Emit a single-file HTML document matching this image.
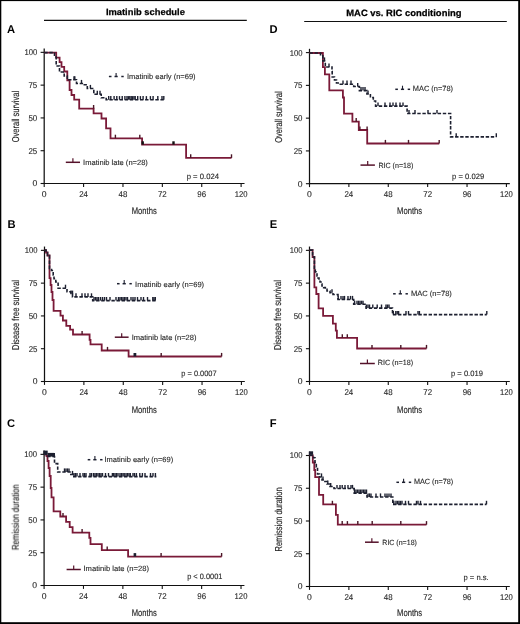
<!DOCTYPE html>
<html><head><meta charset="utf-8"><style>
html,body{margin:0;padding:0;background:#fff;}
svg{display:block;font-family:"Liberation Sans",sans-serif;}
text{text-rendering:geometricPrecision;}
</style></head><body>
<svg width="520" height="624" viewBox="0 0 520 624">
<rect x="0" y="0" width="520" height="624" fill="#fff"/>
<rect x="0" y="0" width="1.3" height="624" fill="#000"/>
<rect x="0" y="0" width="520" height="1.1" fill="#000"/>
<rect x="518.2" y="0" width="1.8" height="624" fill="#000"/>
<rect x="0" y="622.2" width="520" height="1.8" fill="#000"/>
<line x1="44" y1="20.4" x2="246.8" y2="20.4" stroke="#111" stroke-width="1.15"/>
<line x1="304.2" y1="21.45" x2="506.8" y2="21.45" stroke="#111" stroke-width="1.1"/>
<line x1="44.2" y1="48.55" x2="44.2" y2="184.1" stroke="#111" stroke-width="1.25"/>
<line x1="43.6" y1="183.5" x2="244.52" y2="183.5" stroke="#111" stroke-width="1.2"/>
<line x1="40.6" y1="52.35" x2="44.2" y2="52.35" stroke="#111" stroke-width="1.1"/>
<line x1="40.6" y1="85.14" x2="44.2" y2="85.14" stroke="#111" stroke-width="1.1"/>
<line x1="40.6" y1="117.93" x2="44.2" y2="117.93" stroke="#111" stroke-width="1.1"/>
<line x1="40.6" y1="150.71" x2="44.2" y2="150.71" stroke="#111" stroke-width="1.1"/>
<line x1="40.6" y1="183.5" x2="44.2" y2="183.5" stroke="#111" stroke-width="1.1"/>
<line x1="44.2" y1="183.5" x2="44.2" y2="186.9" stroke="#111" stroke-width="1.1"/>
<line x1="83.58" y1="183.5" x2="83.58" y2="186.9" stroke="#111" stroke-width="1.1"/>
<line x1="122.97" y1="183.5" x2="122.97" y2="186.9" stroke="#111" stroke-width="1.1"/>
<line x1="162.35" y1="183.5" x2="162.35" y2="186.9" stroke="#111" stroke-width="1.1"/>
<line x1="201.74" y1="183.5" x2="201.74" y2="186.9" stroke="#111" stroke-width="1.1"/>
<line x1="241.12" y1="183.5" x2="241.12" y2="186.9" stroke="#111" stroke-width="1.1"/>
<line x1="44.5" y1="246.55" x2="44.5" y2="382.1" stroke="#111" stroke-width="1.25"/>
<line x1="43.9" y1="381.5" x2="244.82" y2="381.5" stroke="#111" stroke-width="1.2"/>
<line x1="40.9" y1="250.35" x2="44.5" y2="250.35" stroke="#111" stroke-width="1.1"/>
<line x1="40.9" y1="283.14" x2="44.5" y2="283.14" stroke="#111" stroke-width="1.1"/>
<line x1="40.9" y1="315.93" x2="44.5" y2="315.93" stroke="#111" stroke-width="1.1"/>
<line x1="40.9" y1="348.71" x2="44.5" y2="348.71" stroke="#111" stroke-width="1.1"/>
<line x1="40.9" y1="381.5" x2="44.5" y2="381.5" stroke="#111" stroke-width="1.1"/>
<line x1="44.5" y1="381.5" x2="44.5" y2="384.9" stroke="#111" stroke-width="1.1"/>
<line x1="83.88" y1="381.5" x2="83.88" y2="384.9" stroke="#111" stroke-width="1.1"/>
<line x1="123.27" y1="381.5" x2="123.27" y2="384.9" stroke="#111" stroke-width="1.1"/>
<line x1="162.65" y1="381.5" x2="162.65" y2="384.9" stroke="#111" stroke-width="1.1"/>
<line x1="202.04" y1="381.5" x2="202.04" y2="384.9" stroke="#111" stroke-width="1.1"/>
<line x1="241.42" y1="381.5" x2="241.42" y2="384.9" stroke="#111" stroke-width="1.1"/>
<line x1="44.1" y1="450.55" x2="44.1" y2="586.1" stroke="#111" stroke-width="1.25"/>
<line x1="43.5" y1="585.5" x2="244.42" y2="585.5" stroke="#111" stroke-width="1.2"/>
<line x1="40.5" y1="454.35" x2="44.1" y2="454.35" stroke="#111" stroke-width="1.1"/>
<line x1="40.5" y1="487.14" x2="44.1" y2="487.14" stroke="#111" stroke-width="1.1"/>
<line x1="40.5" y1="519.92" x2="44.1" y2="519.92" stroke="#111" stroke-width="1.1"/>
<line x1="40.5" y1="552.71" x2="44.1" y2="552.71" stroke="#111" stroke-width="1.1"/>
<line x1="40.5" y1="585.5" x2="44.1" y2="585.5" stroke="#111" stroke-width="1.1"/>
<line x1="44.1" y1="585.5" x2="44.1" y2="588.9" stroke="#111" stroke-width="1.1"/>
<line x1="83.48" y1="585.5" x2="83.48" y2="588.9" stroke="#111" stroke-width="1.1"/>
<line x1="122.87" y1="585.5" x2="122.87" y2="588.9" stroke="#111" stroke-width="1.1"/>
<line x1="162.25" y1="585.5" x2="162.25" y2="588.9" stroke="#111" stroke-width="1.1"/>
<line x1="201.64" y1="585.5" x2="201.64" y2="588.9" stroke="#111" stroke-width="1.1"/>
<line x1="241.02" y1="585.5" x2="241.02" y2="588.9" stroke="#111" stroke-width="1.1"/>
<line x1="309.5" y1="48.8" x2="309.5" y2="184.3" stroke="#111" stroke-width="1.25"/>
<line x1="308.9" y1="183.7" x2="509.82" y2="183.7" stroke="#111" stroke-width="1.2"/>
<line x1="305.9" y1="52.6" x2="309.5" y2="52.6" stroke="#111" stroke-width="1.1"/>
<line x1="305.9" y1="85.38" x2="309.5" y2="85.38" stroke="#111" stroke-width="1.1"/>
<line x1="305.9" y1="118.15" x2="309.5" y2="118.15" stroke="#111" stroke-width="1.1"/>
<line x1="305.9" y1="150.92" x2="309.5" y2="150.92" stroke="#111" stroke-width="1.1"/>
<line x1="305.9" y1="183.7" x2="309.5" y2="183.7" stroke="#111" stroke-width="1.1"/>
<line x1="309.5" y1="183.7" x2="309.5" y2="187.1" stroke="#111" stroke-width="1.1"/>
<line x1="348.88" y1="183.7" x2="348.88" y2="187.1" stroke="#111" stroke-width="1.1"/>
<line x1="388.27" y1="183.7" x2="388.27" y2="187.1" stroke="#111" stroke-width="1.1"/>
<line x1="427.65" y1="183.7" x2="427.65" y2="187.1" stroke="#111" stroke-width="1.1"/>
<line x1="467.04" y1="183.7" x2="467.04" y2="187.1" stroke="#111" stroke-width="1.1"/>
<line x1="506.42" y1="183.7" x2="506.42" y2="187.1" stroke="#111" stroke-width="1.1"/>
<line x1="309.5" y1="246.55" x2="309.5" y2="382.1" stroke="#111" stroke-width="1.25"/>
<line x1="308.9" y1="381.5" x2="509.82" y2="381.5" stroke="#111" stroke-width="1.2"/>
<line x1="305.9" y1="250.35" x2="309.5" y2="250.35" stroke="#111" stroke-width="1.1"/>
<line x1="305.9" y1="283.14" x2="309.5" y2="283.14" stroke="#111" stroke-width="1.1"/>
<line x1="305.9" y1="315.93" x2="309.5" y2="315.93" stroke="#111" stroke-width="1.1"/>
<line x1="305.9" y1="348.71" x2="309.5" y2="348.71" stroke="#111" stroke-width="1.1"/>
<line x1="305.9" y1="381.5" x2="309.5" y2="381.5" stroke="#111" stroke-width="1.1"/>
<line x1="309.5" y1="381.5" x2="309.5" y2="384.9" stroke="#111" stroke-width="1.1"/>
<line x1="348.88" y1="381.5" x2="348.88" y2="384.9" stroke="#111" stroke-width="1.1"/>
<line x1="388.27" y1="381.5" x2="388.27" y2="384.9" stroke="#111" stroke-width="1.1"/>
<line x1="427.65" y1="381.5" x2="427.65" y2="384.9" stroke="#111" stroke-width="1.1"/>
<line x1="467.04" y1="381.5" x2="467.04" y2="384.9" stroke="#111" stroke-width="1.1"/>
<line x1="506.42" y1="381.5" x2="506.42" y2="384.9" stroke="#111" stroke-width="1.1"/>
<line x1="309.5" y1="451.7" x2="309.5" y2="587.1" stroke="#111" stroke-width="1.25"/>
<line x1="308.9" y1="586.5" x2="509.82" y2="586.5" stroke="#111" stroke-width="1.2"/>
<line x1="305.9" y1="455.5" x2="309.5" y2="455.5" stroke="#111" stroke-width="1.1"/>
<line x1="305.9" y1="488.25" x2="309.5" y2="488.25" stroke="#111" stroke-width="1.1"/>
<line x1="305.9" y1="521.0" x2="309.5" y2="521.0" stroke="#111" stroke-width="1.1"/>
<line x1="305.9" y1="553.75" x2="309.5" y2="553.75" stroke="#111" stroke-width="1.1"/>
<line x1="305.9" y1="586.5" x2="309.5" y2="586.5" stroke="#111" stroke-width="1.1"/>
<line x1="309.5" y1="586.5" x2="309.5" y2="589.9" stroke="#111" stroke-width="1.1"/>
<line x1="348.88" y1="586.5" x2="348.88" y2="589.9" stroke="#111" stroke-width="1.1"/>
<line x1="388.27" y1="586.5" x2="388.27" y2="589.9" stroke="#111" stroke-width="1.1"/>
<line x1="427.65" y1="586.5" x2="427.65" y2="589.9" stroke="#111" stroke-width="1.1"/>
<line x1="467.04" y1="586.5" x2="467.04" y2="589.9" stroke="#111" stroke-width="1.1"/>
<line x1="506.42" y1="586.5" x2="506.42" y2="589.9" stroke="#111" stroke-width="1.1"/>
<path d="M44.3 52.6H56.2V57.6H59.6V62.2H61.5V66.8H64.2V71.5H67.3V80.3H69.6V90H71.5V95H74.2V99.6H79.2V108.6H93.6V113.3H101.5V118.5H106.1V128.3H110.5V138.3H142.1V144.6H186.1V157.9H231.5" fill="none" stroke="#7a1a38" stroke-width="1.8" stroke-linejoin="miter" stroke-linecap="butt"/>
<line x1="93.6" y1="105.0" x2="93.6" y2="108.6" stroke="#4a1626" stroke-width="1.4"/>
<line x1="115.4" y1="134.7" x2="115.4" y2="138.3" stroke="#4a1626" stroke-width="1.4"/>
<line x1="139.8" y1="134.7" x2="139.8" y2="138.3" stroke="#4a1626" stroke-width="1.4"/>
<line x1="190.7" y1="154.3" x2="190.7" y2="157.9" stroke="#4a1626" stroke-width="1.4"/>
<line x1="231.5" y1="154.3" x2="231.5" y2="157.9" stroke="#4a1626" stroke-width="1.4"/>
<line x1="142.7" y1="141.3" x2="142.7" y2="144.6" stroke="#111" stroke-width="2.4"/>
<line x1="173.5" y1="141.3" x2="173.5" y2="144.6" stroke="#111" stroke-width="2.4"/>
<path d="M44.3 52.6H54.5V57H56.2V66H59.5V72H64.2V76H67.3V79.8H76.5V83.5H83.5V84.8H87.3V88.5H93.8V94.3H101.2V97.8H106.2V99.7H163.8" fill="none" stroke="#1d2030" stroke-width="1.6" stroke-dasharray="3.4 1.7" stroke-linejoin="miter" stroke-linecap="butt"/>
<line x1="74" y1="76.2" x2="74" y2="79.8" stroke="#1d2030" stroke-width="1.4"/>
<line x1="74.8" y1="76.2" x2="74.8" y2="79.8" stroke="#1d2030" stroke-width="1.4"/>
<line x1="81.5" y1="79.9" x2="81.5" y2="83.5" stroke="#1d2030" stroke-width="1.4"/>
<line x1="90.4" y1="84.9" x2="90.4" y2="88.5" stroke="#1d2030" stroke-width="1.4"/>
<line x1="97.3" y1="90.7" x2="97.3" y2="94.3" stroke="#1d2030" stroke-width="1.4"/>
<line x1="100" y1="90.7" x2="100" y2="94.3" stroke="#1d2030" stroke-width="1.4"/>
<line x1="108.7" y1="96.1" x2="108.7" y2="99.7" stroke="#1d2030" stroke-width="1.4"/>
<line x1="110.8" y1="96.1" x2="110.8" y2="99.7" stroke="#1d2030" stroke-width="1.4"/>
<line x1="114.1" y1="96.1" x2="114.1" y2="99.7" stroke="#1d2030" stroke-width="1.4"/>
<line x1="116.8" y1="96.1" x2="116.8" y2="99.7" stroke="#1d2030" stroke-width="1.4"/>
<line x1="119.5" y1="96.1" x2="119.5" y2="99.7" stroke="#1d2030" stroke-width="1.4"/>
<line x1="122.2" y1="96.1" x2="122.2" y2="99.7" stroke="#1d2030" stroke-width="1.4"/>
<line x1="124.9" y1="96.1" x2="124.9" y2="99.7" stroke="#1d2030" stroke-width="1.4"/>
<line x1="127" y1="96.1" x2="127" y2="99.7" stroke="#1d2030" stroke-width="1.4"/>
<line x1="128.4" y1="96.1" x2="128.4" y2="99.7" stroke="#1d2030" stroke-width="1.4"/>
<line x1="129.8" y1="96.1" x2="129.8" y2="99.7" stroke="#1d2030" stroke-width="1.4"/>
<line x1="131.2" y1="96.1" x2="131.2" y2="99.7" stroke="#1d2030" stroke-width="1.4"/>
<line x1="132.6" y1="96.1" x2="132.6" y2="99.7" stroke="#1d2030" stroke-width="1.4"/>
<line x1="134" y1="96.1" x2="134" y2="99.7" stroke="#1d2030" stroke-width="1.4"/>
<line x1="135.2" y1="96.1" x2="135.2" y2="99.7" stroke="#1d2030" stroke-width="1.4"/>
<line x1="137.7" y1="96.1" x2="137.7" y2="99.7" stroke="#1d2030" stroke-width="1.4"/>
<line x1="140.4" y1="96.1" x2="140.4" y2="99.7" stroke="#1d2030" stroke-width="1.4"/>
<line x1="143.1" y1="96.1" x2="143.1" y2="99.7" stroke="#1d2030" stroke-width="1.4"/>
<line x1="146.4" y1="96.1" x2="146.4" y2="99.7" stroke="#1d2030" stroke-width="1.4"/>
<line x1="150.4" y1="96.1" x2="150.4" y2="99.7" stroke="#1d2030" stroke-width="1.4"/>
<line x1="153.1" y1="96.1" x2="153.1" y2="99.7" stroke="#1d2030" stroke-width="1.4"/>
<line x1="157.8" y1="96.1" x2="157.8" y2="99.7" stroke="#1d2030" stroke-width="1.4"/>
<line x1="162" y1="96.1" x2="162" y2="99.7" stroke="#1d2030" stroke-width="1.4"/>
<line x1="163.8" y1="96.1" x2="163.8" y2="99.7" stroke="#1d2030" stroke-width="1.4"/>
<line x1="108.9" y1="76.5" x2="111.5" y2="76.5" stroke="#1d2030" stroke-width="1.5"/>
<line x1="114.5" y1="76.5" x2="117.7" y2="76.5" stroke="#1d2030" stroke-width="1.5"/>
<line x1="116.1" y1="72.9" x2="116.1" y2="76.5" stroke="#1d2030" stroke-width="1.1"/>
<line x1="121.3" y1="76.5" x2="123.7" y2="76.5" stroke="#1d2030" stroke-width="1.5"/>
<line x1="65.8" y1="162.3" x2="80" y2="162.3" stroke="#55122a" stroke-width="1.5"/>
<line x1="72.9" y1="158.3" x2="72.9" y2="162.3" stroke="#55122a" stroke-width="1.2"/>
<path d="M44.6 250.1H46V252.5H47.5V255.5H49.5V278.2H50.6V285H51.5V292H52.5V300H53.6V310.9H60.5V315.7H62.9V320.5H66.3V325.8H70.1V329.6H73V334.5H89.6V339.8H90.5V344.4H101.7V350.5H128.6V356.5H221.6" fill="none" stroke="#7a1a38" stroke-width="1.8" stroke-linejoin="miter" stroke-linecap="butt"/>
<line x1="82.1" y1="330.9" x2="82.1" y2="334.5" stroke="#4a1626" stroke-width="1.4"/>
<line x1="107.5" y1="346.9" x2="107.5" y2="350.5" stroke="#4a1626" stroke-width="1.4"/>
<line x1="161.2" y1="352.9" x2="161.2" y2="356.5" stroke="#4a1626" stroke-width="1.4"/>
<line x1="221.6" y1="352.9" x2="221.6" y2="356.5" stroke="#4a1626" stroke-width="1.4"/>
<line x1="134.9" y1="353.0" x2="134.9" y2="356.5" stroke="#1d2030" stroke-width="2.8"/>
<path d="M44.6 250.1H46V252.5H47.5V255.5H49.5V268.5H51.5V270.5H53.2V275H54V278.7H55.8V282H58.1V288.3H67V291.8H70.8V294.2H72.5V296.9H92.7V300.6H156.1" fill="none" stroke="#1d2030" stroke-width="1.6" stroke-dasharray="3.4 1.7" stroke-linejoin="miter" stroke-linecap="butt"/>
<line x1="65.5" y1="284.7" x2="65.5" y2="288.3" stroke="#1d2030" stroke-width="1.4"/>
<line x1="71" y1="290.6" x2="71" y2="294.2" stroke="#1d2030" stroke-width="1.4"/>
<line x1="72.5" y1="290.6" x2="72.5" y2="294.2" stroke="#1d2030" stroke-width="1.4"/>
<line x1="76" y1="293.3" x2="76" y2="296.9" stroke="#1d2030" stroke-width="1.4"/>
<line x1="82" y1="293.3" x2="82" y2="296.9" stroke="#1d2030" stroke-width="1.4"/>
<line x1="85" y1="293.3" x2="85" y2="296.9" stroke="#1d2030" stroke-width="1.4"/>
<line x1="88" y1="293.3" x2="88" y2="296.9" stroke="#1d2030" stroke-width="1.4"/>
<line x1="91.5" y1="293.3" x2="91.5" y2="296.9" stroke="#1d2030" stroke-width="1.4"/>
<line x1="94" y1="297.0" x2="94" y2="300.6" stroke="#1d2030" stroke-width="1.4"/>
<line x1="95.5" y1="297.0" x2="95.5" y2="300.6" stroke="#1d2030" stroke-width="1.4"/>
<line x1="97" y1="297.0" x2="97" y2="300.6" stroke="#1d2030" stroke-width="1.4"/>
<line x1="98.5" y1="297.0" x2="98.5" y2="300.6" stroke="#1d2030" stroke-width="1.4"/>
<line x1="100.5" y1="297.0" x2="100.5" y2="300.6" stroke="#1d2030" stroke-width="1.4"/>
<line x1="102.5" y1="297.0" x2="102.5" y2="300.6" stroke="#1d2030" stroke-width="1.4"/>
<line x1="104.5" y1="297.0" x2="104.5" y2="300.6" stroke="#1d2030" stroke-width="1.4"/>
<line x1="106.5" y1="297.0" x2="106.5" y2="300.6" stroke="#1d2030" stroke-width="1.4"/>
<line x1="110" y1="297.0" x2="110" y2="300.6" stroke="#1d2030" stroke-width="1.4"/>
<line x1="116" y1="297.0" x2="116" y2="300.6" stroke="#1d2030" stroke-width="1.4"/>
<line x1="118.5" y1="297.0" x2="118.5" y2="300.6" stroke="#1d2030" stroke-width="1.4"/>
<line x1="120" y1="297.0" x2="120" y2="300.6" stroke="#1d2030" stroke-width="1.4"/>
<line x1="121.5" y1="297.0" x2="121.5" y2="300.6" stroke="#1d2030" stroke-width="1.4"/>
<line x1="123" y1="297.0" x2="123" y2="300.6" stroke="#1d2030" stroke-width="1.4"/>
<line x1="124.5" y1="297.0" x2="124.5" y2="300.6" stroke="#1d2030" stroke-width="1.4"/>
<line x1="126" y1="297.0" x2="126" y2="300.6" stroke="#1d2030" stroke-width="1.4"/>
<line x1="127.5" y1="297.0" x2="127.5" y2="300.6" stroke="#1d2030" stroke-width="1.4"/>
<line x1="131" y1="297.0" x2="131" y2="300.6" stroke="#1d2030" stroke-width="1.4"/>
<line x1="133" y1="297.0" x2="133" y2="300.6" stroke="#1d2030" stroke-width="1.4"/>
<line x1="135" y1="297.0" x2="135" y2="300.6" stroke="#1d2030" stroke-width="1.4"/>
<line x1="137.5" y1="297.0" x2="137.5" y2="300.6" stroke="#1d2030" stroke-width="1.4"/>
<line x1="141" y1="297.0" x2="141" y2="300.6" stroke="#1d2030" stroke-width="1.4"/>
<line x1="143.5" y1="297.0" x2="143.5" y2="300.6" stroke="#1d2030" stroke-width="1.4"/>
<line x1="147.5" y1="297.0" x2="147.5" y2="300.6" stroke="#1d2030" stroke-width="1.4"/>
<line x1="152.8" y1="297.0" x2="152.8" y2="300.6" stroke="#1d2030" stroke-width="1.4"/>
<line x1="154" y1="297.0" x2="154" y2="300.6" stroke="#1d2030" stroke-width="1.4"/>
<line x1="155.3" y1="297.0" x2="155.3" y2="300.6" stroke="#1d2030" stroke-width="1.4"/>
<line x1="117" y1="283.7" x2="119.6" y2="283.7" stroke="#1d2030" stroke-width="1.5"/>
<line x1="122.6" y1="283.7" x2="125.8" y2="283.7" stroke="#1d2030" stroke-width="1.5"/>
<line x1="124.2" y1="280.1" x2="124.2" y2="283.7" stroke="#1d2030" stroke-width="1.1"/>
<line x1="129.4" y1="283.7" x2="131.8" y2="283.7" stroke="#1d2030" stroke-width="1.5"/>
<line x1="114.8" y1="337.2" x2="128.6" y2="337.2" stroke="#55122a" stroke-width="1.5"/>
<line x1="121.7" y1="333.2" x2="121.7" y2="337.2" stroke="#55122a" stroke-width="1.2"/>
<path d="M44.2 454.4H46.5V456H47.5V461H48.6V468H49.6V476H50.7V488H51.5V497.3H53.6V511.3H60.3V516.5H66.1V521.8H69.7V527.2H72.6V532.7H89.3V537.9H90.5V544.2H101.8V550.2H128.1V556.6H221.6" fill="none" stroke="#7a1a38" stroke-width="1.8" stroke-linejoin="miter" stroke-linecap="butt"/>
<line x1="63" y1="512.9" x2="63" y2="516.5" stroke="#4a1626" stroke-width="1.4"/>
<line x1="82.1" y1="529.1" x2="82.1" y2="532.7" stroke="#4a1626" stroke-width="1.4"/>
<line x1="107.2" y1="546.6" x2="107.2" y2="550.2" stroke="#4a1626" stroke-width="1.4"/>
<line x1="161.1" y1="553.0" x2="161.1" y2="556.6" stroke="#4a1626" stroke-width="1.4"/>
<line x1="221.6" y1="553.0" x2="221.6" y2="556.6" stroke="#4a1626" stroke-width="1.4"/>
<line x1="134.9" y1="553.1" x2="134.9" y2="556.6" stroke="#1d2030" stroke-width="2.6"/>
<path d="M44.2 454.4H48V456.5H54.5V463.6H57.7V472H70V474.5H73V476.6H156.3" fill="none" stroke="#1d2030" stroke-width="1.6" stroke-dasharray="3.4 1.7" stroke-linejoin="miter" stroke-linecap="butt"/>
<line x1="48.5" y1="452.9" x2="48.5" y2="456.5" stroke="#1d2030" stroke-width="1.4"/>
<line x1="49.5" y1="452.9" x2="49.5" y2="456.5" stroke="#1d2030" stroke-width="1.4"/>
<line x1="50.5" y1="452.9" x2="50.5" y2="456.5" stroke="#1d2030" stroke-width="1.4"/>
<line x1="51.5" y1="452.9" x2="51.5" y2="456.5" stroke="#1d2030" stroke-width="1.4"/>
<line x1="52.5" y1="452.9" x2="52.5" y2="456.5" stroke="#1d2030" stroke-width="1.4"/>
<line x1="53.5" y1="452.9" x2="53.5" y2="456.5" stroke="#1d2030" stroke-width="1.4"/>
<line x1="54.3" y1="452.9" x2="54.3" y2="456.5" stroke="#1d2030" stroke-width="1.4"/>
<line x1="64.5" y1="468.4" x2="64.5" y2="472" stroke="#1d2030" stroke-width="1.4"/>
<line x1="66" y1="468.4" x2="66" y2="472" stroke="#1d2030" stroke-width="1.4"/>
<line x1="67.5" y1="468.4" x2="67.5" y2="472" stroke="#1d2030" stroke-width="1.4"/>
<line x1="69" y1="468.4" x2="69" y2="472" stroke="#1d2030" stroke-width="1.4"/>
<line x1="72.5" y1="470.9" x2="72.5" y2="474.5" stroke="#1d2030" stroke-width="1.4"/>
<line x1="74" y1="473.0" x2="74" y2="476.6" stroke="#1d2030" stroke-width="1.4"/>
<line x1="75.5" y1="473.0" x2="75.5" y2="476.6" stroke="#1d2030" stroke-width="1.4"/>
<line x1="77" y1="473.0" x2="77" y2="476.6" stroke="#1d2030" stroke-width="1.4"/>
<line x1="80" y1="473.0" x2="80" y2="476.6" stroke="#1d2030" stroke-width="1.4"/>
<line x1="83" y1="473.0" x2="83" y2="476.6" stroke="#1d2030" stroke-width="1.4"/>
<line x1="84.5" y1="473.0" x2="84.5" y2="476.6" stroke="#1d2030" stroke-width="1.4"/>
<line x1="86" y1="473.0" x2="86" y2="476.6" stroke="#1d2030" stroke-width="1.4"/>
<line x1="90" y1="473.0" x2="90" y2="476.6" stroke="#1d2030" stroke-width="1.4"/>
<line x1="91.5" y1="473.0" x2="91.5" y2="476.6" stroke="#1d2030" stroke-width="1.4"/>
<line x1="93.5" y1="473.0" x2="93.5" y2="476.6" stroke="#1d2030" stroke-width="1.4"/>
<line x1="95" y1="473.0" x2="95" y2="476.6" stroke="#1d2030" stroke-width="1.4"/>
<line x1="96.5" y1="473.0" x2="96.5" y2="476.6" stroke="#1d2030" stroke-width="1.4"/>
<line x1="98" y1="473.0" x2="98" y2="476.6" stroke="#1d2030" stroke-width="1.4"/>
<line x1="99.5" y1="473.0" x2="99.5" y2="476.6" stroke="#1d2030" stroke-width="1.4"/>
<line x1="101" y1="473.0" x2="101" y2="476.6" stroke="#1d2030" stroke-width="1.4"/>
<line x1="102.5" y1="473.0" x2="102.5" y2="476.6" stroke="#1d2030" stroke-width="1.4"/>
<line x1="105.5" y1="473.0" x2="105.5" y2="476.6" stroke="#1d2030" stroke-width="1.4"/>
<line x1="108.5" y1="473.0" x2="108.5" y2="476.6" stroke="#1d2030" stroke-width="1.4"/>
<line x1="112.4" y1="473.0" x2="112.4" y2="476.6" stroke="#1d2030" stroke-width="1.4"/>
<line x1="113.5" y1="473.0" x2="113.5" y2="476.6" stroke="#1d2030" stroke-width="1.4"/>
<line x1="115" y1="473.0" x2="115" y2="476.6" stroke="#1d2030" stroke-width="1.4"/>
<line x1="116.5" y1="473.0" x2="116.5" y2="476.6" stroke="#1d2030" stroke-width="1.4"/>
<line x1="118" y1="473.0" x2="118" y2="476.6" stroke="#1d2030" stroke-width="1.4"/>
<line x1="120" y1="473.0" x2="120" y2="476.6" stroke="#1d2030" stroke-width="1.4"/>
<line x1="121.5" y1="473.0" x2="121.5" y2="476.6" stroke="#1d2030" stroke-width="1.4"/>
<line x1="123" y1="473.0" x2="123" y2="476.6" stroke="#1d2030" stroke-width="1.4"/>
<line x1="124.2" y1="473.0" x2="124.2" y2="476.6" stroke="#1d2030" stroke-width="1.4"/>
<line x1="126" y1="473.0" x2="126" y2="476.6" stroke="#1d2030" stroke-width="1.4"/>
<line x1="127.5" y1="473.0" x2="127.5" y2="476.6" stroke="#1d2030" stroke-width="1.4"/>
<line x1="129" y1="473.0" x2="129" y2="476.6" stroke="#1d2030" stroke-width="1.4"/>
<line x1="130.3" y1="473.0" x2="130.3" y2="476.6" stroke="#1d2030" stroke-width="1.4"/>
<line x1="133" y1="473.0" x2="133" y2="476.6" stroke="#1d2030" stroke-width="1.4"/>
<line x1="134.5" y1="473.0" x2="134.5" y2="476.6" stroke="#1d2030" stroke-width="1.4"/>
<line x1="136.4" y1="473.0" x2="136.4" y2="476.6" stroke="#1d2030" stroke-width="1.4"/>
<line x1="139.8" y1="473.0" x2="139.8" y2="476.6" stroke="#1d2030" stroke-width="1.4"/>
<line x1="142.4" y1="473.0" x2="142.4" y2="476.6" stroke="#1d2030" stroke-width="1.4"/>
<line x1="145" y1="473.0" x2="145" y2="476.6" stroke="#1d2030" stroke-width="1.4"/>
<line x1="150.5" y1="473.0" x2="150.5" y2="476.6" stroke="#1d2030" stroke-width="1.4"/>
<line x1="153" y1="473.0" x2="153" y2="476.6" stroke="#1d2030" stroke-width="1.4"/>
<line x1="155.4" y1="473.0" x2="155.4" y2="476.6" stroke="#1d2030" stroke-width="1.4"/>
<rect x="43.3" y="450.6" width="4.4" height="3.4" fill="#1d2030"/>
<line x1="87.7" y1="459.7" x2="90.3" y2="459.7" stroke="#1d2030" stroke-width="1.5"/>
<line x1="93.3" y1="459.7" x2="96.5" y2="459.7" stroke="#1d2030" stroke-width="1.5"/>
<line x1="94.9" y1="456.1" x2="94.9" y2="459.7" stroke="#1d2030" stroke-width="1.1"/>
<line x1="100.1" y1="459.7" x2="102.5" y2="459.7" stroke="#1d2030" stroke-width="1.5"/>
<line x1="66.6" y1="569.5" x2="80.8" y2="569.5" stroke="#55122a" stroke-width="1.5"/>
<line x1="73.7" y1="565.5" x2="73.7" y2="569.5" stroke="#55122a" stroke-width="1.2"/>
<path d="M309.5 53H322.9V67.2H324.9V74.4H329.3V90.3H342.9V97.5H344V113.6H352.4V121.7H358.8V130H367.2V143.5H439.2" fill="none" stroke="#7a1a38" stroke-width="1.8" stroke-linejoin="miter" stroke-linecap="butt"/>
<line x1="356.2" y1="118.1" x2="356.2" y2="121.7" stroke="#4a1626" stroke-width="1.4"/>
<line x1="359.9" y1="126.4" x2="359.9" y2="130" stroke="#4a1626" stroke-width="1.4"/>
<line x1="367.1" y1="126.4" x2="367.1" y2="130" stroke="#4a1626" stroke-width="1.4"/>
<line x1="385.4" y1="139.9" x2="385.4" y2="143.5" stroke="#4a1626" stroke-width="1.4"/>
<line x1="408.5" y1="139.9" x2="408.5" y2="143.5" stroke="#4a1626" stroke-width="1.4"/>
<line x1="439.2" y1="139.9" x2="439.2" y2="143.5" stroke="#4a1626" stroke-width="1.4"/>
<path d="M309.5 53H320.5V54.7H322.8V61H325.3V67H332V71.5H332.2V77H334.5V80H336.5V83H339V84.2H353.7V86.5H359.4V90.6H366.9V94H370.4V97.5H373.3V101H375.6V106.1H407.1V113.5H450.6V136.9H496.3" fill="none" stroke="#1d2030" stroke-width="1.6" stroke-dasharray="3.4 1.7" stroke-linejoin="miter" stroke-linecap="butt"/>
<line x1="324.5" y1="57.4" x2="324.5" y2="61" stroke="#1d2030" stroke-width="1.4"/>
<line x1="329" y1="63.4" x2="329" y2="67" stroke="#1d2030" stroke-width="1.4"/>
<line x1="343" y1="80.6" x2="343" y2="84.2" stroke="#1d2030" stroke-width="1.4"/>
<line x1="347" y1="80.6" x2="347" y2="84.2" stroke="#1d2030" stroke-width="1.4"/>
<line x1="351" y1="80.6" x2="351" y2="84.2" stroke="#1d2030" stroke-width="1.4"/>
<line x1="357.7" y1="82.9" x2="357.7" y2="86.5" stroke="#1d2030" stroke-width="1.4"/>
<line x1="361" y1="87.0" x2="361" y2="90.6" stroke="#1d2030" stroke-width="1.4"/>
<line x1="363" y1="87.0" x2="363" y2="90.6" stroke="#1d2030" stroke-width="1.4"/>
<line x1="365" y1="87.0" x2="365" y2="90.6" stroke="#1d2030" stroke-width="1.4"/>
<line x1="368" y1="90.4" x2="368" y2="94" stroke="#1d2030" stroke-width="1.4"/>
<line x1="378" y1="102.5" x2="378" y2="106.1" stroke="#1d2030" stroke-width="1.4"/>
<line x1="385" y1="102.5" x2="385" y2="106.1" stroke="#1d2030" stroke-width="1.4"/>
<line x1="390" y1="102.5" x2="390" y2="106.1" stroke="#1d2030" stroke-width="1.4"/>
<line x1="393" y1="102.5" x2="393" y2="106.1" stroke="#1d2030" stroke-width="1.4"/>
<line x1="396" y1="102.5" x2="396" y2="106.1" stroke="#1d2030" stroke-width="1.4"/>
<line x1="400" y1="102.5" x2="400" y2="106.1" stroke="#1d2030" stroke-width="1.4"/>
<line x1="403" y1="102.5" x2="403" y2="106.1" stroke="#1d2030" stroke-width="1.4"/>
<line x1="409" y1="109.9" x2="409" y2="113.5" stroke="#1d2030" stroke-width="1.4"/>
<line x1="415" y1="109.9" x2="415" y2="113.5" stroke="#1d2030" stroke-width="1.4"/>
<line x1="428" y1="109.9" x2="428" y2="113.5" stroke="#1d2030" stroke-width="1.4"/>
<line x1="437" y1="109.9" x2="437" y2="113.5" stroke="#1d2030" stroke-width="1.4"/>
<line x1="456.2" y1="133.3" x2="456.2" y2="136.9" stroke="#1d2030" stroke-width="1.4"/>
<line x1="496.3" y1="133.3" x2="496.3" y2="136.9" stroke="#1d2030" stroke-width="1.4"/>
<line x1="395.3" y1="89.3" x2="397.9" y2="89.3" stroke="#1d2030" stroke-width="1.5"/>
<line x1="400.9" y1="89.3" x2="404.1" y2="89.3" stroke="#1d2030" stroke-width="1.5"/>
<line x1="402.5" y1="85.7" x2="402.5" y2="89.3" stroke="#1d2030" stroke-width="1.1"/>
<line x1="407.7" y1="89.3" x2="410.1" y2="89.3" stroke="#1d2030" stroke-width="1.5"/>
<line x1="360.5" y1="165.1" x2="374.9" y2="165.1" stroke="#55122a" stroke-width="1.5"/>
<line x1="367.7" y1="161.1" x2="367.7" y2="165.1" stroke="#55122a" stroke-width="1.2"/>
<path d="M309.5 250.1H312.6V257H314.4V287.3H316.3V294H318.6V308.3H323.1V315.9H332.9V323.6H335.8V330.6H336.9V337.8H357.1V348.5H426.5" fill="none" stroke="#7a1a38" stroke-width="1.8" stroke-linejoin="miter" stroke-linecap="butt"/>
<line x1="342.3" y1="334.2" x2="342.3" y2="337.8" stroke="#4a1626" stroke-width="1.4"/>
<line x1="347.3" y1="334.2" x2="347.3" y2="337.8" stroke="#4a1626" stroke-width="1.4"/>
<line x1="372" y1="344.9" x2="372" y2="348.5" stroke="#4a1626" stroke-width="1.4"/>
<line x1="400.8" y1="344.9" x2="400.8" y2="348.5" stroke="#4a1626" stroke-width="1.4"/>
<line x1="426.5" y1="344.9" x2="426.5" y2="348.5" stroke="#4a1626" stroke-width="1.4"/>
<path d="M309.5 250.1H312.6V257H314.4V270H315.27V272.0H316.13V274.0H317.0V276.0H318.0V278.0H319.0V280.0H320.0V282.0H321.0V284.0H322.0V286.0H323.67V287.67H325.33V289.33H327.0V291.0H330.0V292.75H333.0V294.5H338V299.5H353.7V304.3H366.1V308.1H392.5V314.6H486.8" fill="none" stroke="#1d2030" stroke-width="1.6" stroke-dasharray="3.4 1.7" stroke-linejoin="miter" stroke-linecap="butt"/>
<line x1="332" y1="289.15" x2="332" y2="292.75" stroke="#1d2030" stroke-width="1.4"/>
<line x1="338.2" y1="295.9" x2="338.2" y2="299.5" stroke="#1d2030" stroke-width="1.4"/>
<line x1="341" y1="295.9" x2="341" y2="299.5" stroke="#1d2030" stroke-width="1.4"/>
<line x1="343" y1="295.9" x2="343" y2="299.5" stroke="#1d2030" stroke-width="1.4"/>
<line x1="344.5" y1="295.9" x2="344.5" y2="299.5" stroke="#1d2030" stroke-width="1.4"/>
<line x1="348" y1="295.9" x2="348" y2="299.5" stroke="#1d2030" stroke-width="1.4"/>
<line x1="350.5" y1="295.9" x2="350.5" y2="299.5" stroke="#1d2030" stroke-width="1.4"/>
<line x1="352.5" y1="295.9" x2="352.5" y2="299.5" stroke="#1d2030" stroke-width="1.4"/>
<line x1="354.6" y1="300.7" x2="354.6" y2="304.3" stroke="#1d2030" stroke-width="1.4"/>
<line x1="357" y1="300.7" x2="357" y2="304.3" stroke="#1d2030" stroke-width="1.4"/>
<line x1="358.5" y1="300.7" x2="358.5" y2="304.3" stroke="#1d2030" stroke-width="1.4"/>
<line x1="360" y1="300.7" x2="360" y2="304.3" stroke="#1d2030" stroke-width="1.4"/>
<line x1="361.5" y1="300.7" x2="361.5" y2="304.3" stroke="#1d2030" stroke-width="1.4"/>
<line x1="363" y1="300.7" x2="363" y2="304.3" stroke="#1d2030" stroke-width="1.4"/>
<line x1="366.5" y1="304.5" x2="366.5" y2="308.1" stroke="#1d2030" stroke-width="1.4"/>
<line x1="368" y1="304.5" x2="368" y2="308.1" stroke="#1d2030" stroke-width="1.4"/>
<line x1="369.5" y1="304.5" x2="369.5" y2="308.1" stroke="#1d2030" stroke-width="1.4"/>
<line x1="372.8" y1="304.5" x2="372.8" y2="308.1" stroke="#1d2030" stroke-width="1.4"/>
<line x1="377.2" y1="304.5" x2="377.2" y2="308.1" stroke="#1d2030" stroke-width="1.4"/>
<line x1="381.5" y1="304.5" x2="381.5" y2="308.1" stroke="#1d2030" stroke-width="1.4"/>
<line x1="386" y1="304.5" x2="386" y2="308.1" stroke="#1d2030" stroke-width="1.4"/>
<line x1="387.5" y1="304.5" x2="387.5" y2="308.1" stroke="#1d2030" stroke-width="1.4"/>
<line x1="389" y1="304.5" x2="389" y2="308.1" stroke="#1d2030" stroke-width="1.4"/>
<line x1="393.3" y1="311.0" x2="393.3" y2="314.6" stroke="#1d2030" stroke-width="1.4"/>
<line x1="395.8" y1="311.0" x2="395.8" y2="314.6" stroke="#1d2030" stroke-width="1.4"/>
<line x1="397.2" y1="311.0" x2="397.2" y2="314.6" stroke="#1d2030" stroke-width="1.4"/>
<line x1="398.6" y1="311.0" x2="398.6" y2="314.6" stroke="#1d2030" stroke-width="1.4"/>
<line x1="406" y1="311.0" x2="406" y2="314.6" stroke="#1d2030" stroke-width="1.4"/>
<line x1="408.5" y1="311.0" x2="408.5" y2="314.6" stroke="#1d2030" stroke-width="1.4"/>
<line x1="418" y1="311.0" x2="418" y2="314.6" stroke="#1d2030" stroke-width="1.4"/>
<line x1="419.4" y1="311.0" x2="419.4" y2="314.6" stroke="#1d2030" stroke-width="1.4"/>
<line x1="486.8" y1="311.0" x2="486.8" y2="314.6" stroke="#1d2030" stroke-width="1.4"/>
<line x1="393.1" y1="293.8" x2="395.7" y2="293.8" stroke="#1d2030" stroke-width="1.5"/>
<line x1="398.7" y1="293.8" x2="401.9" y2="293.8" stroke="#1d2030" stroke-width="1.5"/>
<line x1="400.3" y1="290.2" x2="400.3" y2="293.8" stroke="#1d2030" stroke-width="1.1"/>
<line x1="405.5" y1="293.8" x2="407.9" y2="293.8" stroke="#1d2030" stroke-width="1.5"/>
<line x1="360" y1="363.5" x2="374.8" y2="363.5" stroke="#55122a" stroke-width="1.5"/>
<line x1="367.4" y1="359.5" x2="367.4" y2="363.5" stroke="#55122a" stroke-width="1.2"/>
<path d="M309.5 455.3H312.8V462.5H314.3V470H315.2V477.2H319V494.8H323.2V504.4H335.9V514.8H337.8V524.7H426.5" fill="none" stroke="#7a1a38" stroke-width="1.8" stroke-linejoin="miter" stroke-linecap="butt"/>
<line x1="332.4" y1="500.8" x2="332.4" y2="504.4" stroke="#4a1626" stroke-width="1.4"/>
<line x1="342.2" y1="521.1" x2="342.2" y2="524.7" stroke="#4a1626" stroke-width="1.4"/>
<line x1="347.4" y1="521.1" x2="347.4" y2="524.7" stroke="#4a1626" stroke-width="1.4"/>
<line x1="357.8" y1="521.1" x2="357.8" y2="524.7" stroke="#4a1626" stroke-width="1.4"/>
<line x1="372.2" y1="521.1" x2="372.2" y2="524.7" stroke="#4a1626" stroke-width="1.4"/>
<line x1="400.8" y1="521.1" x2="400.8" y2="524.7" stroke="#4a1626" stroke-width="1.4"/>
<line x1="426.5" y1="521.1" x2="426.5" y2="524.7" stroke="#4a1626" stroke-width="1.4"/>
<path d="M309.5 455.3H313.5V457.8H315V462.5H316.3V467H317.5V474H319.5V477H322V480H324V481.5H327V484H330V486.5H334V488.5H354.2V493.1H367V497H392.8V504.4H486.5" fill="none" stroke="#1d2030" stroke-width="1.6" stroke-dasharray="3.4 1.7" stroke-linejoin="miter" stroke-linecap="butt"/>
<line x1="321.5" y1="473.4" x2="321.5" y2="477" stroke="#1d2030" stroke-width="1.4"/>
<line x1="323" y1="476.4" x2="323" y2="480" stroke="#1d2030" stroke-width="1.4"/>
<line x1="327.8" y1="480.4" x2="327.8" y2="484" stroke="#1d2030" stroke-width="1.4"/>
<line x1="330.7" y1="482.9" x2="330.7" y2="486.5" stroke="#1d2030" stroke-width="1.4"/>
<line x1="337" y1="484.9" x2="337" y2="488.5" stroke="#1d2030" stroke-width="1.4"/>
<line x1="340" y1="484.9" x2="340" y2="488.5" stroke="#1d2030" stroke-width="1.4"/>
<line x1="342.2" y1="484.9" x2="342.2" y2="488.5" stroke="#1d2030" stroke-width="1.4"/>
<line x1="345" y1="484.9" x2="345" y2="488.5" stroke="#1d2030" stroke-width="1.4"/>
<line x1="348" y1="484.9" x2="348" y2="488.5" stroke="#1d2030" stroke-width="1.4"/>
<line x1="351" y1="484.9" x2="351" y2="488.5" stroke="#1d2030" stroke-width="1.4"/>
<line x1="352.5" y1="484.9" x2="352.5" y2="488.5" stroke="#1d2030" stroke-width="1.4"/>
<line x1="354.6" y1="489.5" x2="354.6" y2="493.1" stroke="#1d2030" stroke-width="1.4"/>
<line x1="356" y1="489.5" x2="356" y2="493.1" stroke="#1d2030" stroke-width="1.4"/>
<line x1="357.5" y1="489.5" x2="357.5" y2="493.1" stroke="#1d2030" stroke-width="1.4"/>
<line x1="359" y1="489.5" x2="359" y2="493.1" stroke="#1d2030" stroke-width="1.4"/>
<line x1="360.5" y1="489.5" x2="360.5" y2="493.1" stroke="#1d2030" stroke-width="1.4"/>
<line x1="362" y1="489.5" x2="362" y2="493.1" stroke="#1d2030" stroke-width="1.4"/>
<line x1="363.5" y1="489.5" x2="363.5" y2="493.1" stroke="#1d2030" stroke-width="1.4"/>
<line x1="365" y1="489.5" x2="365" y2="493.1" stroke="#1d2030" stroke-width="1.4"/>
<line x1="366.5" y1="489.5" x2="366.5" y2="493.1" stroke="#1d2030" stroke-width="1.4"/>
<line x1="368" y1="493.4" x2="368" y2="497" stroke="#1d2030" stroke-width="1.4"/>
<line x1="369.5" y1="493.4" x2="369.5" y2="497" stroke="#1d2030" stroke-width="1.4"/>
<line x1="371" y1="493.4" x2="371" y2="497" stroke="#1d2030" stroke-width="1.4"/>
<line x1="376" y1="493.4" x2="376" y2="497" stroke="#1d2030" stroke-width="1.4"/>
<line x1="380.5" y1="493.4" x2="380.5" y2="497" stroke="#1d2030" stroke-width="1.4"/>
<line x1="385" y1="493.4" x2="385" y2="497" stroke="#1d2030" stroke-width="1.4"/>
<line x1="387" y1="493.4" x2="387" y2="497" stroke="#1d2030" stroke-width="1.4"/>
<line x1="389" y1="493.4" x2="389" y2="497" stroke="#1d2030" stroke-width="1.4"/>
<line x1="391" y1="493.4" x2="391" y2="497" stroke="#1d2030" stroke-width="1.4"/>
<line x1="393.8" y1="500.8" x2="393.8" y2="504.4" stroke="#1d2030" stroke-width="1.4"/>
<line x1="396" y1="500.8" x2="396" y2="504.4" stroke="#1d2030" stroke-width="1.4"/>
<line x1="397.5" y1="500.8" x2="397.5" y2="504.4" stroke="#1d2030" stroke-width="1.4"/>
<line x1="399" y1="500.8" x2="399" y2="504.4" stroke="#1d2030" stroke-width="1.4"/>
<line x1="400.5" y1="500.8" x2="400.5" y2="504.4" stroke="#1d2030" stroke-width="1.4"/>
<line x1="402" y1="500.8" x2="402" y2="504.4" stroke="#1d2030" stroke-width="1.4"/>
<line x1="405.5" y1="500.8" x2="405.5" y2="504.4" stroke="#1d2030" stroke-width="1.4"/>
<line x1="408.5" y1="500.8" x2="408.5" y2="504.4" stroke="#1d2030" stroke-width="1.4"/>
<line x1="416.5" y1="500.8" x2="416.5" y2="504.4" stroke="#1d2030" stroke-width="1.4"/>
<line x1="418" y1="500.8" x2="418" y2="504.4" stroke="#1d2030" stroke-width="1.4"/>
<line x1="420.5" y1="500.8" x2="420.5" y2="504.4" stroke="#1d2030" stroke-width="1.4"/>
<line x1="486.5" y1="500.8" x2="486.5" y2="504.4" stroke="#1d2030" stroke-width="1.4"/>
<rect x="308.9" y="451.3" width="4.2" height="3.5" fill="#1d2030"/>
<line x1="396.4" y1="482.3" x2="399.0" y2="482.3" stroke="#1d2030" stroke-width="1.5"/>
<line x1="402.0" y1="482.3" x2="405.2" y2="482.3" stroke="#1d2030" stroke-width="1.5"/>
<line x1="403.6" y1="478.7" x2="403.6" y2="482.3" stroke="#1d2030" stroke-width="1.1"/>
<line x1="408.8" y1="482.3" x2="411.2" y2="482.3" stroke="#1d2030" stroke-width="1.5"/>
<line x1="365" y1="542.2" x2="378.7" y2="542.2" stroke="#55122a" stroke-width="1.5"/>
<line x1="371.85" y1="538.2" x2="371.85" y2="542.2" stroke="#55122a" stroke-width="1.2"/>
<g style="opacity:0.999">
<text x="145.4" y="14.5" font-size="9.0" text-anchor="middle" font-weight="bold" fill="#000" textLength="79" lengthAdjust="spacingAndGlyphs" stroke="#000" stroke-width="0.25">Imatinib schedule</text>
<text x="403.9" y="15.6" font-size="9.2" text-anchor="middle" font-weight="bold" fill="#000" textLength="115.3" lengthAdjust="spacingAndGlyphs" stroke="#000" stroke-width="0.25">MAC vs. RIC conditioning</text>
<text x="6.9" y="32.7" font-size="11.2" text-anchor="start" font-weight="bold" fill="#000">A</text>
<text x="7.6" y="227.9" font-size="11.2" text-anchor="start" font-weight="bold" fill="#000">B</text>
<text x="6.9" y="427.1" font-size="11.2" text-anchor="start" font-weight="bold" fill="#000">C</text>
<text x="269.6" y="32.9" font-size="11.2" text-anchor="start" font-weight="bold" fill="#000">D</text>
<text x="269.8" y="228.1" font-size="11.2" text-anchor="start" font-weight="bold" fill="#000">E</text>
<text x="269.8" y="427.1" font-size="11.2" text-anchor="start" font-weight="bold" fill="#000">F</text>
<text transform="translate(18.7 116.6) rotate(-90)" x="0" y="0" font-size="10" text-anchor="middle" fill="#1e1e1e" stroke="#1e1e1e" stroke-width="0.15" textLength="51.3" lengthAdjust="spacingAndGlyphs">Overall survival</text>
<text transform="translate(18.8 315.0) rotate(-90)" x="0" y="0" font-size="10" text-anchor="middle" fill="#1e1e1e" stroke="#1e1e1e" stroke-width="0.15" textLength="70" lengthAdjust="spacingAndGlyphs">Disease free survival</text>
<text transform="translate(18.8 517.3) rotate(-90)" x="0" y="0" font-size="10" text-anchor="middle" fill="#1e1e1e" stroke="#1e1e1e" stroke-width="0.15" textLength="65.6" lengthAdjust="spacingAndGlyphs">Remission duration</text>
<text transform="translate(281.5 117.1) rotate(-90)" x="0" y="0" font-size="10" text-anchor="middle" fill="#1e1e1e" stroke="#1e1e1e" stroke-width="0.15" textLength="51.3" lengthAdjust="spacingAndGlyphs">Overall survival</text>
<text transform="translate(281.1 315.1) rotate(-90)" x="0" y="0" font-size="10" text-anchor="middle" fill="#1e1e1e" stroke="#1e1e1e" stroke-width="0.15" textLength="70" lengthAdjust="spacingAndGlyphs">Disease free survival</text>
<text transform="translate(281.6 519.4) rotate(-90)" x="0" y="0" font-size="10" text-anchor="middle" fill="#1e1e1e" stroke="#1e1e1e" stroke-width="0.15" textLength="64.2" lengthAdjust="spacingAndGlyphs">Remission duration</text>
<text x="144.25" y="214.1" font-size="9.6" text-anchor="middle" font-weight="normal" fill="#1e1e1e" textLength="25" lengthAdjust="spacingAndGlyphs" stroke="#1e1e1e" stroke-width="0.15">Months</text>
<text x="144.25" y="412.7" font-size="9.6" text-anchor="middle" font-weight="normal" fill="#1e1e1e" textLength="25" lengthAdjust="spacingAndGlyphs" stroke="#1e1e1e" stroke-width="0.15">Months</text>
<text x="144.25" y="616.4" font-size="9.6" text-anchor="middle" font-weight="normal" fill="#1e1e1e" textLength="25" lengthAdjust="spacingAndGlyphs" stroke="#1e1e1e" stroke-width="0.15">Months</text>
<text x="409.6" y="214.1" font-size="9.6" text-anchor="middle" font-weight="normal" fill="#1e1e1e" textLength="25" lengthAdjust="spacingAndGlyphs" stroke="#1e1e1e" stroke-width="0.15">Months</text>
<text x="409.6" y="412.7" font-size="9.6" text-anchor="middle" font-weight="normal" fill="#1e1e1e" textLength="25" lengthAdjust="spacingAndGlyphs" stroke="#1e1e1e" stroke-width="0.15">Months</text>
<text x="409.6" y="616.4" font-size="9.6" text-anchor="middle" font-weight="normal" fill="#1e1e1e" textLength="25" lengthAdjust="spacingAndGlyphs" stroke="#1e1e1e" stroke-width="0.15">Months</text>
<text x="37.2" y="55.25" font-size="8.4" text-anchor="end" font-weight="normal" fill="#282828" textLength="12.8" lengthAdjust="spacingAndGlyphs" stroke="#282828" stroke-width="0.12">100</text>
<text x="37.2" y="88.04" font-size="8.4" text-anchor="end" font-weight="normal" fill="#282828" textLength="8.8" lengthAdjust="spacingAndGlyphs" stroke="#282828" stroke-width="0.12">75</text>
<text x="37.2" y="120.83" font-size="8.4" text-anchor="end" font-weight="normal" fill="#282828" textLength="8.8" lengthAdjust="spacingAndGlyphs" stroke="#282828" stroke-width="0.12">50</text>
<text x="37.2" y="153.61" font-size="8.4" text-anchor="end" font-weight="normal" fill="#282828" textLength="8.8" lengthAdjust="spacingAndGlyphs" stroke="#282828" stroke-width="0.12">25</text>
<text x="37.2" y="186.4" font-size="8.4" text-anchor="end" font-weight="normal" fill="#282828" textLength="4.8" lengthAdjust="spacingAndGlyphs" stroke="#282828" stroke-width="0.12">0</text>
<text x="44.2" y="197.1" font-size="8.4" text-anchor="middle" font-weight="normal" fill="#282828" textLength="4.8" lengthAdjust="spacingAndGlyphs" stroke="#282828" stroke-width="0.12">0</text>
<text x="83.58" y="197.1" font-size="8.4" text-anchor="middle" font-weight="normal" fill="#282828" textLength="8.8" lengthAdjust="spacingAndGlyphs" stroke="#282828" stroke-width="0.12">24</text>
<text x="122.97" y="197.1" font-size="8.4" text-anchor="middle" font-weight="normal" fill="#282828" textLength="8.8" lengthAdjust="spacingAndGlyphs" stroke="#282828" stroke-width="0.12">48</text>
<text x="162.35" y="197.1" font-size="8.4" text-anchor="middle" font-weight="normal" fill="#282828" textLength="8.8" lengthAdjust="spacingAndGlyphs" stroke="#282828" stroke-width="0.12">72</text>
<text x="201.74" y="197.1" font-size="8.4" text-anchor="middle" font-weight="normal" fill="#282828" textLength="8.8" lengthAdjust="spacingAndGlyphs" stroke="#282828" stroke-width="0.12">96</text>
<text x="241.12" y="197.1" font-size="8.4" text-anchor="middle" font-weight="normal" fill="#282828" textLength="12.8" lengthAdjust="spacingAndGlyphs" stroke="#282828" stroke-width="0.12">120</text>
<text x="37.5" y="253.25" font-size="8.4" text-anchor="end" font-weight="normal" fill="#282828" textLength="12.8" lengthAdjust="spacingAndGlyphs" stroke="#282828" stroke-width="0.12">100</text>
<text x="37.5" y="286.04" font-size="8.4" text-anchor="end" font-weight="normal" fill="#282828" textLength="8.8" lengthAdjust="spacingAndGlyphs" stroke="#282828" stroke-width="0.12">75</text>
<text x="37.5" y="318.83" font-size="8.4" text-anchor="end" font-weight="normal" fill="#282828" textLength="8.8" lengthAdjust="spacingAndGlyphs" stroke="#282828" stroke-width="0.12">50</text>
<text x="37.5" y="351.61" font-size="8.4" text-anchor="end" font-weight="normal" fill="#282828" textLength="8.8" lengthAdjust="spacingAndGlyphs" stroke="#282828" stroke-width="0.12">25</text>
<text x="37.5" y="384.4" font-size="8.4" text-anchor="end" font-weight="normal" fill="#282828" textLength="4.8" lengthAdjust="spacingAndGlyphs" stroke="#282828" stroke-width="0.12">0</text>
<text x="44.5" y="395.1" font-size="8.4" text-anchor="middle" font-weight="normal" fill="#282828" textLength="4.8" lengthAdjust="spacingAndGlyphs" stroke="#282828" stroke-width="0.12">0</text>
<text x="83.88" y="395.1" font-size="8.4" text-anchor="middle" font-weight="normal" fill="#282828" textLength="8.8" lengthAdjust="spacingAndGlyphs" stroke="#282828" stroke-width="0.12">24</text>
<text x="123.27" y="395.1" font-size="8.4" text-anchor="middle" font-weight="normal" fill="#282828" textLength="8.8" lengthAdjust="spacingAndGlyphs" stroke="#282828" stroke-width="0.12">48</text>
<text x="162.65" y="395.1" font-size="8.4" text-anchor="middle" font-weight="normal" fill="#282828" textLength="8.8" lengthAdjust="spacingAndGlyphs" stroke="#282828" stroke-width="0.12">72</text>
<text x="202.04" y="395.1" font-size="8.4" text-anchor="middle" font-weight="normal" fill="#282828" textLength="8.8" lengthAdjust="spacingAndGlyphs" stroke="#282828" stroke-width="0.12">96</text>
<text x="241.42" y="395.1" font-size="8.4" text-anchor="middle" font-weight="normal" fill="#282828" textLength="12.8" lengthAdjust="spacingAndGlyphs" stroke="#282828" stroke-width="0.12">120</text>
<text x="37.1" y="457.25" font-size="8.4" text-anchor="end" font-weight="normal" fill="#282828" textLength="12.8" lengthAdjust="spacingAndGlyphs" stroke="#282828" stroke-width="0.12">100</text>
<text x="37.1" y="490.04" font-size="8.4" text-anchor="end" font-weight="normal" fill="#282828" textLength="8.8" lengthAdjust="spacingAndGlyphs" stroke="#282828" stroke-width="0.12">75</text>
<text x="37.1" y="522.82" font-size="8.4" text-anchor="end" font-weight="normal" fill="#282828" textLength="8.8" lengthAdjust="spacingAndGlyphs" stroke="#282828" stroke-width="0.12">50</text>
<text x="37.1" y="555.61" font-size="8.4" text-anchor="end" font-weight="normal" fill="#282828" textLength="8.8" lengthAdjust="spacingAndGlyphs" stroke="#282828" stroke-width="0.12">25</text>
<text x="37.1" y="588.4" font-size="8.4" text-anchor="end" font-weight="normal" fill="#282828" textLength="4.8" lengthAdjust="spacingAndGlyphs" stroke="#282828" stroke-width="0.12">0</text>
<text x="44.1" y="599.1" font-size="8.4" text-anchor="middle" font-weight="normal" fill="#282828" textLength="4.8" lengthAdjust="spacingAndGlyphs" stroke="#282828" stroke-width="0.12">0</text>
<text x="83.48" y="599.1" font-size="8.4" text-anchor="middle" font-weight="normal" fill="#282828" textLength="8.8" lengthAdjust="spacingAndGlyphs" stroke="#282828" stroke-width="0.12">24</text>
<text x="122.87" y="599.1" font-size="8.4" text-anchor="middle" font-weight="normal" fill="#282828" textLength="8.8" lengthAdjust="spacingAndGlyphs" stroke="#282828" stroke-width="0.12">48</text>
<text x="162.25" y="599.1" font-size="8.4" text-anchor="middle" font-weight="normal" fill="#282828" textLength="8.8" lengthAdjust="spacingAndGlyphs" stroke="#282828" stroke-width="0.12">72</text>
<text x="201.64" y="599.1" font-size="8.4" text-anchor="middle" font-weight="normal" fill="#282828" textLength="8.8" lengthAdjust="spacingAndGlyphs" stroke="#282828" stroke-width="0.12">96</text>
<text x="241.02" y="599.1" font-size="8.4" text-anchor="middle" font-weight="normal" fill="#282828" textLength="12.8" lengthAdjust="spacingAndGlyphs" stroke="#282828" stroke-width="0.12">120</text>
<text x="302.5" y="55.5" font-size="8.4" text-anchor="end" font-weight="normal" fill="#282828" textLength="12.8" lengthAdjust="spacingAndGlyphs" stroke="#282828" stroke-width="0.12">100</text>
<text x="302.5" y="88.28" font-size="8.4" text-anchor="end" font-weight="normal" fill="#282828" textLength="8.8" lengthAdjust="spacingAndGlyphs" stroke="#282828" stroke-width="0.12">75</text>
<text x="302.5" y="121.05" font-size="8.4" text-anchor="end" font-weight="normal" fill="#282828" textLength="8.8" lengthAdjust="spacingAndGlyphs" stroke="#282828" stroke-width="0.12">50</text>
<text x="302.5" y="153.82" font-size="8.4" text-anchor="end" font-weight="normal" fill="#282828" textLength="8.8" lengthAdjust="spacingAndGlyphs" stroke="#282828" stroke-width="0.12">25</text>
<text x="302.5" y="186.6" font-size="8.4" text-anchor="end" font-weight="normal" fill="#282828" textLength="4.8" lengthAdjust="spacingAndGlyphs" stroke="#282828" stroke-width="0.12">0</text>
<text x="309.5" y="197.3" font-size="8.4" text-anchor="middle" font-weight="normal" fill="#282828" textLength="4.8" lengthAdjust="spacingAndGlyphs" stroke="#282828" stroke-width="0.12">0</text>
<text x="348.88" y="197.3" font-size="8.4" text-anchor="middle" font-weight="normal" fill="#282828" textLength="8.8" lengthAdjust="spacingAndGlyphs" stroke="#282828" stroke-width="0.12">24</text>
<text x="388.27" y="197.3" font-size="8.4" text-anchor="middle" font-weight="normal" fill="#282828" textLength="8.8" lengthAdjust="spacingAndGlyphs" stroke="#282828" stroke-width="0.12">48</text>
<text x="427.65" y="197.3" font-size="8.4" text-anchor="middle" font-weight="normal" fill="#282828" textLength="8.8" lengthAdjust="spacingAndGlyphs" stroke="#282828" stroke-width="0.12">72</text>
<text x="467.04" y="197.3" font-size="8.4" text-anchor="middle" font-weight="normal" fill="#282828" textLength="8.8" lengthAdjust="spacingAndGlyphs" stroke="#282828" stroke-width="0.12">96</text>
<text x="506.42" y="197.3" font-size="8.4" text-anchor="middle" font-weight="normal" fill="#282828" textLength="12.8" lengthAdjust="spacingAndGlyphs" stroke="#282828" stroke-width="0.12">120</text>
<text x="302.5" y="253.25" font-size="8.4" text-anchor="end" font-weight="normal" fill="#282828" textLength="12.8" lengthAdjust="spacingAndGlyphs" stroke="#282828" stroke-width="0.12">100</text>
<text x="302.5" y="286.04" font-size="8.4" text-anchor="end" font-weight="normal" fill="#282828" textLength="8.8" lengthAdjust="spacingAndGlyphs" stroke="#282828" stroke-width="0.12">75</text>
<text x="302.5" y="318.83" font-size="8.4" text-anchor="end" font-weight="normal" fill="#282828" textLength="8.8" lengthAdjust="spacingAndGlyphs" stroke="#282828" stroke-width="0.12">50</text>
<text x="302.5" y="351.61" font-size="8.4" text-anchor="end" font-weight="normal" fill="#282828" textLength="8.8" lengthAdjust="spacingAndGlyphs" stroke="#282828" stroke-width="0.12">25</text>
<text x="302.5" y="384.4" font-size="8.4" text-anchor="end" font-weight="normal" fill="#282828" textLength="4.8" lengthAdjust="spacingAndGlyphs" stroke="#282828" stroke-width="0.12">0</text>
<text x="309.5" y="395.1" font-size="8.4" text-anchor="middle" font-weight="normal" fill="#282828" textLength="4.8" lengthAdjust="spacingAndGlyphs" stroke="#282828" stroke-width="0.12">0</text>
<text x="348.88" y="395.1" font-size="8.4" text-anchor="middle" font-weight="normal" fill="#282828" textLength="8.8" lengthAdjust="spacingAndGlyphs" stroke="#282828" stroke-width="0.12">24</text>
<text x="388.27" y="395.1" font-size="8.4" text-anchor="middle" font-weight="normal" fill="#282828" textLength="8.8" lengthAdjust="spacingAndGlyphs" stroke="#282828" stroke-width="0.12">48</text>
<text x="427.65" y="395.1" font-size="8.4" text-anchor="middle" font-weight="normal" fill="#282828" textLength="8.8" lengthAdjust="spacingAndGlyphs" stroke="#282828" stroke-width="0.12">72</text>
<text x="467.04" y="395.1" font-size="8.4" text-anchor="middle" font-weight="normal" fill="#282828" textLength="8.8" lengthAdjust="spacingAndGlyphs" stroke="#282828" stroke-width="0.12">96</text>
<text x="506.42" y="395.1" font-size="8.4" text-anchor="middle" font-weight="normal" fill="#282828" textLength="12.8" lengthAdjust="spacingAndGlyphs" stroke="#282828" stroke-width="0.12">120</text>
<text x="302.5" y="458.4" font-size="8.4" text-anchor="end" font-weight="normal" fill="#282828" textLength="12.8" lengthAdjust="spacingAndGlyphs" stroke="#282828" stroke-width="0.12">100</text>
<text x="302.5" y="491.15" font-size="8.4" text-anchor="end" font-weight="normal" fill="#282828" textLength="8.8" lengthAdjust="spacingAndGlyphs" stroke="#282828" stroke-width="0.12">75</text>
<text x="302.5" y="523.9" font-size="8.4" text-anchor="end" font-weight="normal" fill="#282828" textLength="8.8" lengthAdjust="spacingAndGlyphs" stroke="#282828" stroke-width="0.12">50</text>
<text x="302.5" y="556.65" font-size="8.4" text-anchor="end" font-weight="normal" fill="#282828" textLength="8.8" lengthAdjust="spacingAndGlyphs" stroke="#282828" stroke-width="0.12">25</text>
<text x="302.5" y="589.4" font-size="8.4" text-anchor="end" font-weight="normal" fill="#282828" textLength="4.8" lengthAdjust="spacingAndGlyphs" stroke="#282828" stroke-width="0.12">0</text>
<text x="309.5" y="600.1" font-size="8.4" text-anchor="middle" font-weight="normal" fill="#282828" textLength="4.8" lengthAdjust="spacingAndGlyphs" stroke="#282828" stroke-width="0.12">0</text>
<text x="348.88" y="600.1" font-size="8.4" text-anchor="middle" font-weight="normal" fill="#282828" textLength="8.8" lengthAdjust="spacingAndGlyphs" stroke="#282828" stroke-width="0.12">24</text>
<text x="388.27" y="600.1" font-size="8.4" text-anchor="middle" font-weight="normal" fill="#282828" textLength="8.8" lengthAdjust="spacingAndGlyphs" stroke="#282828" stroke-width="0.12">48</text>
<text x="427.65" y="600.1" font-size="8.4" text-anchor="middle" font-weight="normal" fill="#282828" textLength="8.8" lengthAdjust="spacingAndGlyphs" stroke="#282828" stroke-width="0.12">72</text>
<text x="467.04" y="600.1" font-size="8.4" text-anchor="middle" font-weight="normal" fill="#282828" textLength="8.8" lengthAdjust="spacingAndGlyphs" stroke="#282828" stroke-width="0.12">96</text>
<text x="506.42" y="600.1" font-size="8.4" text-anchor="middle" font-weight="normal" fill="#282828" textLength="12.8" lengthAdjust="spacingAndGlyphs" stroke="#282828" stroke-width="0.12">120</text>
<text x="126.9" y="78.9" font-size="7.5" text-anchor="start" font-weight="normal" fill="#282828" textLength="68.7" lengthAdjust="spacingAndGlyphs" stroke="#282828" stroke-width="0.12">Imatinib early (n=69)</text>
<text x="83.1" y="164.7" font-size="7.5" text-anchor="start" font-weight="normal" fill="#282828" textLength="64.8" lengthAdjust="spacingAndGlyphs" stroke="#282828" stroke-width="0.12">Imatinib late (n=28)</text>
<text x="186.7" y="178.5" font-size="7.8" text-anchor="start" font-weight="normal" fill="#282828" textLength="32.3" lengthAdjust="spacingAndGlyphs" stroke="#282828" stroke-width="0.12">p = 0.024</text>
<text x="135.1" y="286.7" font-size="7.5" text-anchor="start" font-weight="normal" fill="#282828" textLength="69" lengthAdjust="spacingAndGlyphs" stroke="#282828" stroke-width="0.12">Imatinib early (n=69)</text>
<text x="131.7" y="340.0" font-size="7.5" text-anchor="start" font-weight="normal" fill="#282828" textLength="64.8" lengthAdjust="spacingAndGlyphs" stroke="#282828" stroke-width="0.12">Imatinib late (n=28)</text>
<text x="181.3" y="376.4" font-size="7.8" text-anchor="start" font-weight="normal" fill="#282828" textLength="35.3" lengthAdjust="spacingAndGlyphs" stroke="#282828" stroke-width="0.12">p = 0.0007</text>
<text x="104.5" y="462.3" font-size="7.5" text-anchor="start" font-weight="normal" fill="#282828" textLength="68.7" lengthAdjust="spacingAndGlyphs" stroke="#282828" stroke-width="0.12">Imatinib early (n=69)</text>
<text x="83.5" y="571.0" font-size="7.5" text-anchor="start" font-weight="normal" fill="#282828" textLength="65.5" lengthAdjust="spacingAndGlyphs" stroke="#282828" stroke-width="0.12">Imatinib late (n=28)</text>
<text x="187.2" y="579.2" font-size="7.8" text-anchor="start" font-weight="normal" fill="#282828" textLength="35.2" lengthAdjust="spacingAndGlyphs" stroke="#282828" stroke-width="0.12">p &lt; 0.0001</text>
<text x="412.8" y="91.3" font-size="7.5" text-anchor="start" font-weight="normal" fill="#282828" textLength="40.2" lengthAdjust="spacingAndGlyphs" stroke="#282828" stroke-width="0.12">MAC (n=78)</text>
<text x="378.4" y="167.5" font-size="7.5" text-anchor="start" font-weight="normal" fill="#282828" textLength="35" lengthAdjust="spacingAndGlyphs" stroke="#282828" stroke-width="0.12">RIC (n=18)</text>
<text x="452.1" y="178.8" font-size="7.8" text-anchor="start" font-weight="normal" fill="#282828" textLength="32.1" lengthAdjust="spacingAndGlyphs" stroke="#282828" stroke-width="0.12">p = 0.029</text>
<text x="410.9" y="296.2" font-size="7.5" text-anchor="start" font-weight="normal" fill="#282828" textLength="41" lengthAdjust="spacingAndGlyphs" stroke="#282828" stroke-width="0.12">MAC (n=78)</text>
<text x="377.7" y="365.4" font-size="7.5" text-anchor="start" font-weight="normal" fill="#282828" textLength="35.4" lengthAdjust="spacingAndGlyphs" stroke="#282828" stroke-width="0.12">RIC (n=18)</text>
<text x="451" y="376.4" font-size="7.8" text-anchor="start" font-weight="normal" fill="#282828" textLength="31.9" lengthAdjust="spacingAndGlyphs" stroke="#282828" stroke-width="0.12">p = 0.019</text>
<text x="413.9" y="484.1" font-size="7.5" text-anchor="start" font-weight="normal" fill="#282828" textLength="39.4" lengthAdjust="spacingAndGlyphs" stroke="#282828" stroke-width="0.12">MAC (n=78)</text>
<text x="382.3" y="545.0" font-size="7.5" text-anchor="start" font-weight="normal" fill="#282828" textLength="34.6" lengthAdjust="spacingAndGlyphs" stroke="#282828" stroke-width="0.12">RIC (n=18)</text>
<text x="463.5" y="579.5" font-size="7.8" text-anchor="start" font-weight="normal" fill="#282828" textLength="25.2" lengthAdjust="spacingAndGlyphs" stroke="#282828" stroke-width="0.12">p = n.s.</text>
</g>
</svg>
</body></html>
